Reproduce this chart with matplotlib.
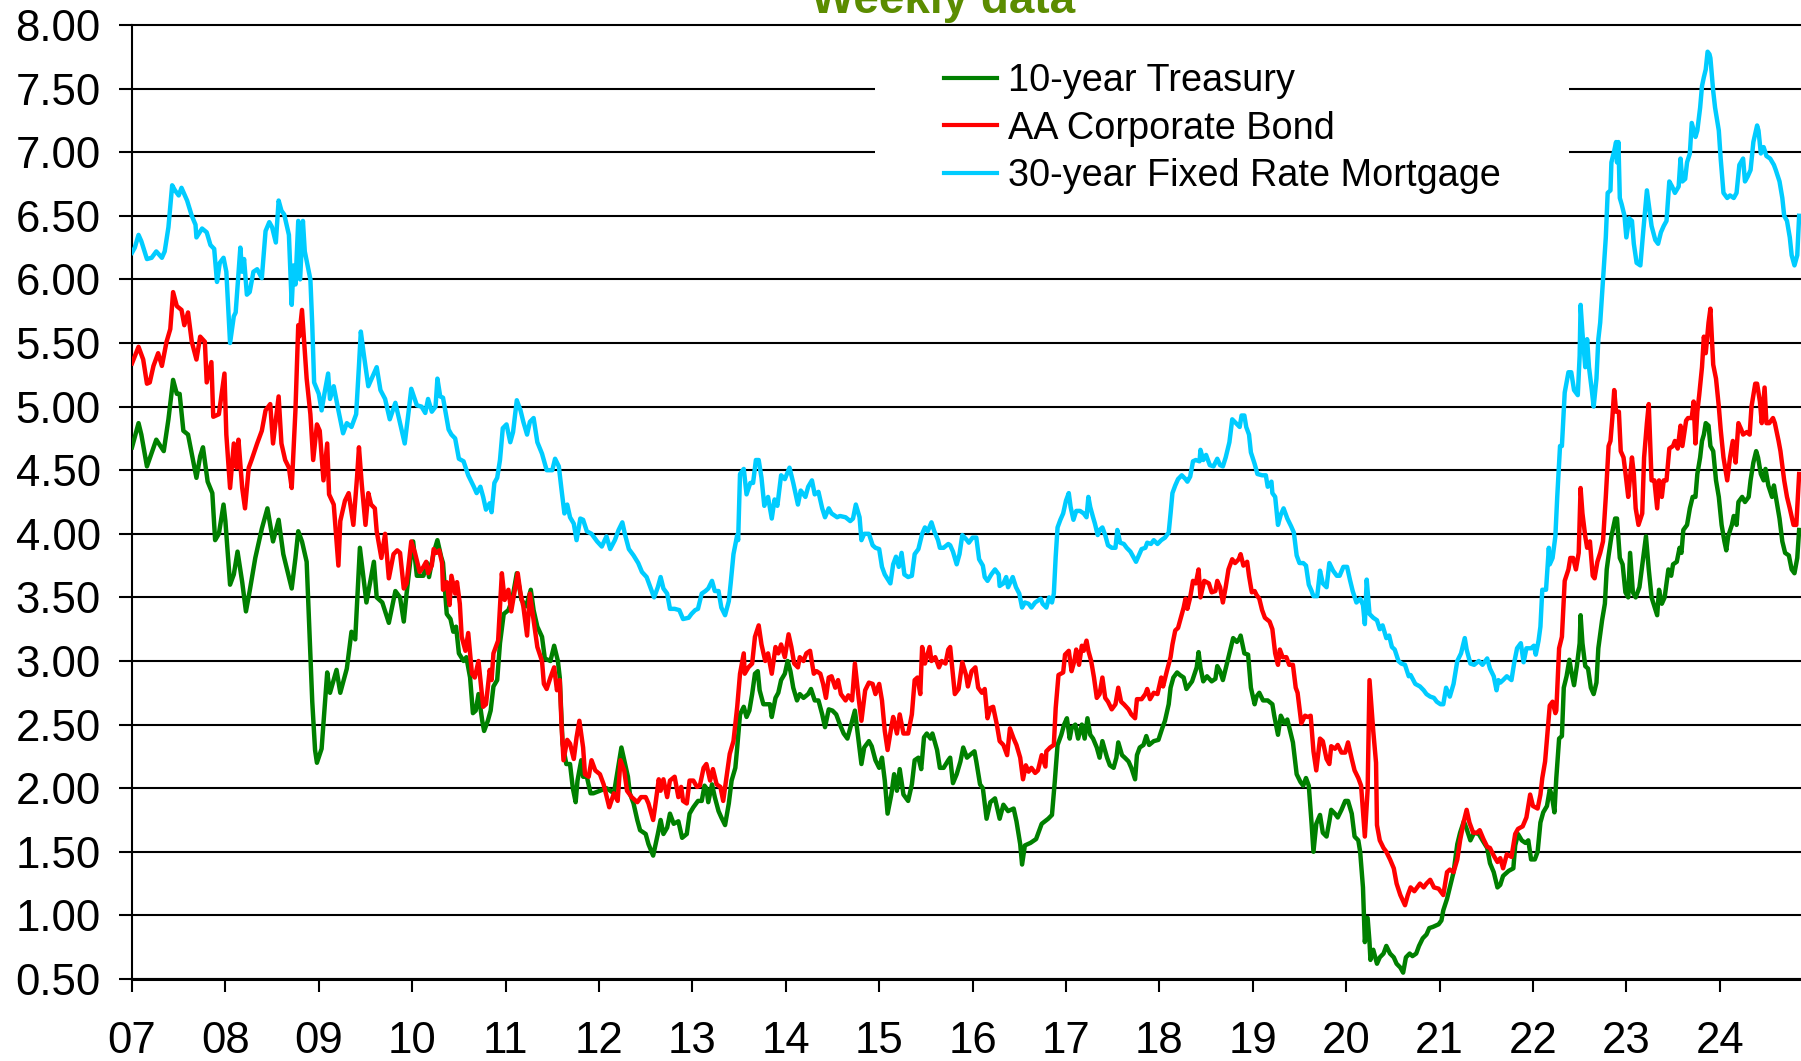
import matplotlib
matplotlib.use("Agg")
import matplotlib.pyplot as plt
from matplotlib.patches import Rectangle

plt.rcParams['font.family'] = ['Liberation Sans', 'DejaVu Sans']

# ---------------- data (decimal year, percent) ----------------
tsy_dates = [
    2007.00,2007.07,2007.10,2007.16,2007.26,2007.34,2007.39,2007.44,2007.48,2007.51,2007.55,2007.60,2007.69,2007.73,2007.76,2007.81,2007.86,2007.89,2007.93,2007.98,
    2008.00,2008.05,2008.09,2008.13,2008.18,2008.22,2008.26,2008.32,2008.39,2008.45,2008.51,2008.57,2008.62,2008.71,2008.75,2008.78,2008.82,2008.87,2008.93,2008.96,2008.98,
    2009.03,2009.09,2009.12,2009.19,2009.23,2009.30,2009.35,2009.39,2009.44,2009.51,2009.59,2009.62,2009.68,2009.75,2009.82,2009.87,2009.91,2009.94,2009.98,
    2010.01,2010.05,2010.12,2010.16,2010.18,2010.23,2010.27,2010.31,2010.33,2010.37,2010.41,2010.44,2010.47,2010.50,2010.55,2010.58,2010.62,2010.65,2010.68,2010.71,2010.75,2010.77,2010.81,2010.84,2010.87,2010.91,2010.94,2010.98,
    2011.03,2011.07,2011.12,2011.17,2011.22,2011.27,2011.30,2011.34,2011.39,2011.42,2011.48,2011.52,2011.56,2011.58,2011.61,2011.65,2011.69,2011.72,2011.75,2011.77,2011.81,2011.83,2011.87,2011.91,2011.94,
    2012.01,2012.08,2012.16,2012.20,2012.24,2012.27,2012.31,2012.33,2012.37,2012.41,2012.44,2012.50,2012.53,2012.58,2012.63,2012.66,2012.69,2012.73,2012.76,2012.80,2012.85,2012.89,2012.94,2012.97,
    2013.01,2013.06,2013.10,2013.13,2013.15,2013.17,2013.21,2013.24,2013.28,2013.31,2013.35,2013.39,2013.42,2013.46,2013.48,2013.51,2013.55,2013.58,2013.61,2013.64,2013.67,2013.70,2013.72,2013.76,2013.80,2013.83,2013.85,2013.89,2013.92,2013.95,2013.99,
    2014.02,2014.05,2014.08,2014.12,2014.15,2014.19,2014.24,2014.27,2014.31,2014.35,2014.39,2014.42,2014.46,2014.50,2014.54,2014.58,2014.62,2014.66,2014.70,2014.74,2014.78,2014.81,2014.84,2014.89,2014.92,2014.96,
    2015.00,2015.03,2015.06,2015.09,2015.13,2015.16,2015.19,2015.22,2015.26,2015.31,2015.35,2015.38,2015.42,2015.45,2015.48,2015.51,2015.55,2015.57,2015.62,2015.65,2015.69,2015.74,2015.76,2015.79,2015.83,2015.87,2015.90,2015.94,2015.97,
    2016.02,2016.04,2016.08,2016.11,2016.15,2016.19,2016.24,2016.29,2016.33,2016.38,2016.44,2016.47,2016.51,2016.53,2016.56,2016.62,2016.68,2016.74,2016.81,2016.85,2016.88,2016.91,2016.95,2016.98,
    2017.01,2017.04,2017.06,2017.10,2017.13,2017.17,2017.20,2017.23,2017.26,2017.29,2017.33,2017.36,2017.39,2017.44,2017.47,2017.51,2017.54,2017.56,2017.60,2017.63,2017.67,2017.70,2017.74,2017.76,2017.79,2017.83,2017.86,2017.89,2017.94,2017.99,
    2018.03,2018.06,2018.10,2018.12,2018.15,2018.19,2018.22,2018.26,2018.29,2018.33,2018.35,2018.40,2018.42,2018.44,2018.47,2018.51,2018.56,2018.60,2018.62,2018.65,2018.68,2018.71,2018.75,2018.79,2018.83,2018.86,2018.87,2018.91,2018.95,2018.98,
    2019.02,2019.04,2019.07,2019.11,2019.16,2019.21,2019.23,2019.27,2019.30,2019.34,2019.37,2019.39,2019.43,2019.47,2019.51,2019.54,2019.57,2019.60,2019.63,2019.65,2019.68,2019.72,2019.75,2019.79,2019.82,2019.84,2019.88,2019.91,2019.95,2019.99,
    2020.02,2020.06,2020.09,2020.13,2020.15,2020.18,2020.20,2020.23,2020.25,2020.26,2020.29,2020.33,2020.36,2020.40,2020.43,2020.47,2020.51,2020.54,2020.58,2020.61,2020.64,2020.68,2020.71,2020.75,2020.78,2020.82,2020.86,2020.89,2020.93,2020.99,
    2021.02,2021.04,2021.08,2021.11,2021.15,2021.19,2021.22,2021.26,2021.29,2021.33,2021.37,2021.42,2021.46,2021.51,2021.54,2021.58,2021.62,2021.65,2021.68,2021.74,2021.79,2021.81,2021.84,2021.88,2021.92,2021.95,2021.98,
    2022.02,2022.05,2022.08,2022.11,2022.15,2022.18,2022.20,2022.23,2022.25,2022.28,2022.31,2022.33,2022.36,2022.39,2022.41,2022.44,2022.47,2022.50,2022.51,2022.53,2022.56,2022.59,2022.62,2022.65,2022.68,2022.70,2022.74,2022.77,2022.79,2022.81,2022.84,2022.88,2022.90,2022.93,2022.96,2022.99,
    2023.02,2023.04,2023.07,2023.10,2023.14,2023.18,2023.21,2023.24,2023.27,2023.30,2023.33,2023.35,2023.38,2023.41,2023.45,2023.48,2023.50,2023.54,2023.57,2023.59,2023.61,2023.65,2023.68,2023.71,2023.74,2023.76,2023.79,2023.81,2023.83,2023.85,2023.88,2023.90,2023.93,2023.96,2023.99,
    2024.02,2024.05,2024.07,2024.09,2024.13,2024.15,2024.18,2024.20,2024.24,2024.27,2024.31,2024.33,2024.36,2024.39,2024.41,2024.44,2024.47,2024.49,2024.52,2024.56,2024.58,2024.61,2024.64,2024.67,2024.70,2024.74,2024.77,2024.80,2024.83,2024.85,
]
tsy_values = [
    4.68,4.87,4.78,4.53,4.74,4.65,4.90,5.21,5.10,5.10,4.81,4.78,4.44,4.61,4.68,4.41,4.32,3.95,4.00,4.23,
    4.10,3.60,3.68,3.86,3.62,3.39,3.55,3.81,4.04,4.20,3.94,4.11,3.84,3.57,3.81,4.02,3.94,3.78,2.68,2.30,2.20,
    2.31,2.91,2.75,2.93,2.75,2.94,3.23,3.17,3.89,3.46,3.78,3.50,3.46,3.30,3.55,3.50,3.31,3.53,3.79,
    3.94,3.67,3.67,3.77,3.66,3.85,3.95,3.82,3.77,3.37,3.33,3.23,3.27,3.06,3.00,3.03,2.87,2.59,2.61,2.74,2.53,2.45,2.53,2.61,2.80,2.85,3.14,3.37,
    3.40,3.48,3.69,3.48,3.43,3.56,3.40,3.27,3.19,3.02,3.00,3.12,3.00,2.87,2.35,2.19,2.19,2.00,1.89,2.06,2.22,2.09,2.09,1.96,1.96,
    1.98,2.00,1.96,2.14,2.32,2.22,2.09,1.96,1.88,1.75,1.67,1.64,1.56,1.47,1.64,1.75,1.64,1.69,1.80,1.72,1.74,1.61,1.64,1.80,
    1.85,1.90,1.90,2.02,2.00,1.89,2.03,1.93,1.82,1.77,1.71,1.88,2.06,2.16,2.32,2.58,2.64,2.56,2.61,2.74,2.90,2.92,2.77,2.66,2.66,2.66,2.56,2.71,2.75,2.85,2.90,
    3.00,2.92,2.79,2.69,2.74,2.71,2.74,2.78,2.69,2.69,2.58,2.48,2.62,2.61,2.58,2.50,2.43,2.39,2.50,2.61,2.37,2.19,2.32,2.37,2.33,2.22,
    2.16,2.24,2.06,1.80,1.95,2.11,1.98,2.15,1.95,1.90,2.03,2.22,2.24,2.15,2.40,2.43,2.39,2.43,2.30,2.16,2.16,2.22,2.24,2.04,2.11,2.21,2.32,2.24,2.26,
    2.29,2.21,2.03,2.00,1.76,1.89,1.92,1.76,1.87,1.82,1.84,1.74,1.56,1.40,1.55,1.57,1.60,1.72,1.76,1.79,2.05,2.34,2.42,2.50,
    2.55,2.39,2.47,2.50,2.39,2.50,2.39,2.55,2.42,2.39,2.32,2.24,2.37,2.24,2.18,2.16,2.24,2.36,2.26,2.24,2.21,2.16,2.07,2.26,2.32,2.34,2.41,2.34,2.37,2.38,
    2.47,2.53,2.66,2.79,2.87,2.91,2.89,2.87,2.78,2.82,2.84,2.95,3.07,2.95,2.84,2.88,2.84,2.86,2.96,2.92,2.85,2.94,3.06,3.18,3.15,3.18,3.20,3.06,3.05,2.79,
    2.66,2.72,2.75,2.69,2.69,2.66,2.57,2.42,2.57,2.51,2.54,2.48,2.36,2.11,2.05,2.02,2.08,2.02,1.72,1.50,1.72,1.79,1.65,1.62,1.74,1.83,1.80,1.77,1.83,1.90,
    1.90,1.80,1.62,1.59,1.50,1.22,0.79,0.98,0.79,0.65,0.73,0.62,0.67,0.70,0.76,0.70,0.67,0.62,0.59,0.55,0.67,0.70,0.68,0.70,0.76,0.82,0.85,0.90,0.91,0.93,
    0.96,1.04,1.13,1.22,1.34,1.56,1.65,1.74,1.68,1.59,1.65,1.64,1.59,1.53,1.41,1.34,1.22,1.24,1.31,1.35,1.37,1.55,1.64,1.59,1.57,1.59,1.44,
    1.44,1.50,1.73,1.81,1.86,1.99,1.95,1.81,2.08,2.39,2.41,2.79,2.88,3.01,2.92,2.81,2.96,3.14,3.36,3.14,2.96,2.94,2.79,2.74,2.83,3.10,3.32,3.45,3.72,3.83,3.98,4.12,4.12,3.81,3.76,3.54,
    3.50,3.85,3.54,3.50,3.58,3.81,3.98,3.72,3.50,3.43,3.36,3.56,3.45,3.50,3.72,3.67,3.76,3.78,3.89,3.85,4.03,4.07,4.20,4.29,4.29,4.47,4.60,4.73,4.78,4.87,4.85,4.69,4.65,4.42,4.29,
    4.07,3.94,3.87,3.98,4.07,4.14,4.07,4.25,4.29,4.25,4.29,4.42,4.56,4.65,4.60,4.47,4.42,4.51,4.38,4.29,4.38,4.25,4.12,3.94,3.85,3.83,3.72,3.69,3.81,4.03,
]

aa_dates = [
    2007.00,2007.07,2007.12,2007.16,2007.19,2007.23,2007.28,2007.32,2007.37,2007.41,2007.44,2007.48,2007.53,2007.56,2007.60,2007.64,2007.69,2007.73,2007.78,2007.80,2007.85,2007.87,2007.93,2007.96,2007.99,
    2008.01,2008.05,2008.09,2008.12,2008.14,2008.18,2008.21,2008.25,2008.28,2008.34,2008.39,2008.43,2008.48,2008.51,2008.57,2008.60,2008.64,2008.68,2008.71,2008.75,2008.78,2008.79,2008.82,2008.87,2008.91,2008.94,2008.98,
    2009.01,2009.05,2009.09,2009.11,2009.16,2009.21,2009.23,2009.28,2009.32,2009.37,2009.41,2009.43,2009.46,2009.50,2009.53,2009.56,2009.60,2009.62,2009.67,2009.71,2009.75,2009.80,2009.84,2009.87,2009.91,2009.94,2009.99,
    2010.03,2010.08,2010.12,2010.15,2010.17,2010.21,2010.23,2010.26,2010.29,2010.32,2010.33,2010.37,2010.40,2010.42,2010.46,2010.48,2010.51,2010.53,2010.57,2010.60,2010.64,2010.67,2010.71,2010.76,2010.79,2010.83,2010.85,2010.87,2010.92,2010.96,2010.99,
    2011.03,2011.06,2011.10,2011.13,2011.16,2011.19,2011.23,2011.26,2011.30,2011.34,2011.39,2011.41,2011.44,2011.48,2011.52,2011.55,2011.58,2011.60,2011.62,2011.66,2011.69,2011.73,2011.76,2011.79,2011.83,2011.85,2011.89,2011.92,2011.96,
    2012.01,2012.05,2012.11,2012.16,2012.20,2012.23,2012.27,2012.30,2012.35,2012.41,2012.45,2012.50,2012.53,2012.58,2012.60,2012.64,2012.66,2012.69,2012.73,2012.76,2012.81,2012.85,2012.88,2012.90,2012.94,2012.97,
    2013.01,2013.05,2013.08,2013.12,2013.15,2013.19,2013.22,2013.26,2013.30,2013.33,2013.37,2013.40,2013.44,2013.48,2013.51,2013.55,2013.56,2013.60,2013.64,2013.67,2013.71,2013.74,2013.78,2013.81,2013.85,2013.89,2013.92,2013.95,2013.99,
    2014.03,2014.06,2014.09,2014.13,2014.15,2014.19,2014.22,2014.26,2014.30,2014.33,2014.37,2014.40,2014.43,2014.46,2014.49,2014.53,2014.56,2014.59,2014.64,2014.67,2014.71,2014.74,2014.78,2014.81,2014.85,2014.89,2014.93,2014.96,
    2015.00,2015.03,2015.06,2015.09,2015.13,2015.15,2015.19,2015.22,2015.26,2015.31,2015.35,2015.38,2015.41,2015.44,2015.46,2015.49,2015.54,2015.56,2015.60,2015.64,2015.67,2015.71,2015.74,2015.76,2015.79,2015.81,2015.85,2015.89,2015.93,2015.95,2015.99,
    2016.03,2016.06,2016.10,2016.13,2016.16,2016.19,2016.22,2016.26,2016.29,2016.33,2016.37,2016.40,2016.44,2016.47,2016.51,2016.54,2016.57,2016.60,2016.63,2016.67,2016.70,2016.74,2016.78,2016.79,2016.83,2016.87,2016.89,2016.92,2016.97,2016.99,
    2017.03,2017.06,2017.09,2017.11,2017.14,2017.17,2017.19,2017.22,2017.24,2017.27,2017.30,2017.33,2017.36,2017.39,2017.42,2017.45,2017.49,2017.53,2017.56,2017.59,2017.62,2017.67,2017.70,2017.74,2017.76,2017.81,2017.85,2017.87,2017.90,2017.94,2017.98,
    2018.02,2018.04,2018.08,2018.12,2018.14,2018.17,2018.20,2018.23,2018.26,2018.28,2018.30,2018.33,2018.36,2018.39,2018.42,2018.44,2018.48,2018.53,2018.56,2018.60,2018.62,2018.65,2018.68,2018.71,2018.74,2018.78,2018.81,2018.85,2018.87,2018.90,2018.94,2018.96,2018.99,
    2019.02,2019.04,2019.07,2019.10,2019.13,2019.18,2019.21,2019.24,2019.27,2019.29,2019.32,2019.36,2019.39,2019.43,2019.46,2019.48,2019.52,2019.56,2019.59,2019.62,2019.65,2019.68,2019.72,2019.75,2019.79,2019.82,2019.84,2019.88,2019.91,2019.95,2019.99,
    2020.02,2020.06,2020.09,2020.13,2020.16,2020.20,2020.23,2020.25,2020.26,2020.29,2020.32,2020.33,2020.36,2020.40,2020.43,2020.47,2020.51,2020.54,2020.58,2020.63,2020.66,2020.69,2020.73,2020.76,2020.79,2020.83,2020.86,2020.90,2020.94,2020.99,
    2021.04,2021.08,2021.11,2021.15,2021.19,2021.22,2021.26,2021.29,2021.32,2021.36,2021.40,2021.43,2021.47,2021.51,2021.54,2021.58,2021.62,2021.65,2021.68,2021.72,2021.77,2021.81,2021.84,2021.89,2021.93,2021.97,
    2022.00,2022.05,2022.08,2022.10,2022.13,2022.15,2022.18,2022.21,2022.24,2022.25,2022.28,2022.31,2022.34,2022.38,2022.40,2022.43,2022.46,2022.49,2022.51,2022.53,2022.56,2022.58,2022.61,2022.64,2022.66,2022.69,2022.72,2022.75,2022.78,2022.81,2022.83,2022.85,2022.87,2022.89,2022.92,2022.94,2022.97,
    2023.00,2023.02,2023.06,2023.08,2023.10,2023.13,2023.17,2023.19,2023.22,2023.24,2023.27,2023.30,2023.33,2023.35,2023.38,2023.40,2023.43,2023.46,2023.50,2023.52,2023.55,2023.58,2023.60,2023.64,2023.66,2023.70,2023.72,2023.74,2023.76,2023.78,2023.81,2023.83,2023.85,2023.88,2023.90,2023.91,2023.93,2023.96,2023.99,
    2024.01,2024.04,2024.08,2024.11,2024.14,2024.17,2024.20,2024.23,2024.25,2024.29,2024.32,2024.34,2024.38,2024.40,2024.43,2024.45,2024.48,2024.50,2024.53,2024.57,2024.59,2024.63,2024.65,2024.69,2024.72,2024.75,2024.79,2024.82,2024.85,
]
aa_values = [
    5.34,5.47,5.37,5.18,5.19,5.32,5.42,5.32,5.51,5.61,5.90,5.79,5.76,5.64,5.74,5.51,5.37,5.55,5.51,5.19,5.35,4.92,4.94,5.10,5.26,
    4.78,4.36,4.71,4.52,4.74,4.36,4.20,4.52,4.58,4.71,4.81,4.97,5.02,4.71,5.08,4.71,4.58,4.52,4.36,4.97,5.64,5.55,5.76,5.22,4.94,4.58,4.86,
    4.81,4.42,4.71,4.31,4.23,3.75,4.10,4.26,4.32,4.07,4.45,4.68,4.39,4.07,4.32,4.23,4.20,4.02,3.81,4.00,3.65,3.84,3.87,3.85,3.57,3.61,3.94,
    3.85,3.70,3.74,3.78,3.69,3.75,3.88,3.85,3.87,3.77,3.56,3.62,3.44,3.67,3.53,3.62,3.45,3.19,3.08,3.22,2.90,2.87,3.00,2.64,2.66,2.93,2.85,3.06,3.16,3.69,3.48,
    3.56,3.39,3.56,3.69,3.53,3.43,3.20,3.53,3.32,3.11,3.00,2.82,2.78,2.87,2.95,2.77,2.85,2.48,2.22,2.38,2.35,2.23,2.40,2.53,2.32,2.11,2.09,2.22,2.14,
    2.11,2.03,1.85,1.96,1.90,2.22,2.14,1.98,1.93,1.89,1.93,1.93,1.88,1.75,1.85,2.07,1.98,2.07,1.93,2.06,2.09,1.93,2.01,1.90,1.88,2.06,
    2.06,2.01,2.02,2.16,2.19,2.06,2.15,2.03,2.01,1.90,2.11,2.27,2.37,2.64,2.90,3.06,2.90,2.95,2.98,3.19,3.28,3.13,3.00,3.06,2.90,3.11,3.06,3.13,3.03,
    3.21,3.11,2.98,2.95,3.03,3.00,3.06,3.08,2.90,2.92,2.90,2.82,2.71,2.87,2.88,2.79,2.85,2.74,2.69,2.73,2.69,2.98,2.71,2.53,2.77,2.83,2.82,2.74,
    2.82,2.69,2.45,2.30,2.48,2.56,2.43,2.58,2.43,2.43,2.58,2.85,2.87,2.74,3.11,2.98,3.11,3.00,3.03,2.95,3.00,2.98,3.09,3.11,2.89,2.74,2.78,2.99,2.89,2.80,2.92,
    2.95,2.79,2.75,2.78,2.55,2.63,2.64,2.50,2.37,2.34,2.26,2.47,2.39,2.34,2.24,2.07,2.18,2.13,2.16,2.12,2.14,2.26,2.17,2.29,2.32,2.34,2.63,2.89,2.91,3.05,
    3.08,2.92,3.00,3.09,2.97,3.12,3.08,3.16,3.08,3.00,2.87,2.71,2.74,2.87,2.71,2.68,2.62,2.66,2.79,2.68,2.66,2.62,2.58,2.55,2.70,2.70,2.74,2.78,2.70,2.75,2.74,
    2.87,2.80,2.92,3.03,3.13,3.24,3.26,3.34,3.42,3.49,3.41,3.50,3.63,3.61,3.72,3.50,3.63,3.61,3.54,3.55,3.63,3.58,3.46,3.58,3.72,3.80,3.77,3.80,3.84,3.75,3.78,3.67,3.54,
    3.55,3.52,3.49,3.40,3.34,3.31,3.25,3.06,2.97,3.09,3.03,3.03,2.97,2.97,2.79,2.75,2.51,2.57,2.56,2.57,2.29,2.14,2.39,2.37,2.23,2.19,2.33,2.31,2.34,2.28,2.28,
    2.36,2.23,2.14,2.08,2.02,1.62,1.99,2.85,2.75,2.45,2.20,1.71,1.59,1.53,1.50,1.44,1.37,1.25,1.16,1.08,1.16,1.22,1.19,1.22,1.25,1.22,1.25,1.28,1.22,1.21,
    1.16,1.34,1.36,1.34,1.44,1.59,1.74,1.83,1.73,1.65,1.65,1.67,1.60,1.54,1.53,1.47,1.42,1.45,1.37,1.48,1.46,1.64,1.68,1.70,1.77,1.95,
    1.86,1.84,1.95,2.08,2.21,2.39,2.65,2.68,2.59,2.61,3.10,3.19,3.63,3.72,3.81,3.81,3.72,3.85,4.36,4.16,3.98,3.89,3.94,3.67,3.65,3.78,3.85,3.94,4.29,4.69,4.73,4.91,5.13,4.96,4.96,4.65,4.60,
    4.42,4.29,4.60,4.47,4.20,4.07,4.16,4.60,4.87,5.02,4.42,4.42,4.20,4.42,4.29,4.42,4.42,4.67,4.69,4.73,4.67,4.85,4.69,4.89,4.91,4.91,5.04,4.71,4.96,5.09,5.31,5.55,5.42,5.66,5.77,5.62,5.33,5.22,5.00,
    4.82,4.60,4.42,4.60,4.73,4.56,4.87,4.82,4.78,4.80,4.78,5.00,5.18,5.18,5.04,4.87,5.15,4.87,4.87,4.91,4.87,4.73,4.65,4.42,4.29,4.20,4.07,4.07,4.47,
]

mtg_dates = [
    2007.00,2007.03,2007.07,2007.10,2007.16,2007.21,2007.26,2007.32,2007.35,2007.39,2007.43,2007.46,2007.50,2007.53,2007.59,2007.64,2007.68,2007.69,2007.75,2007.80,2007.84,2007.88,2007.91,2007.94,2007.98,
    2008.01,2008.05,2008.09,2008.11,2008.16,2008.18,2008.20,2008.23,2008.26,2008.30,2008.34,2008.39,2008.43,2008.47,2008.50,2008.54,2008.57,2008.60,2008.63,2008.68,2008.71,2008.73,2008.75,2008.78,2008.80,2008.83,2008.85,2008.91,2008.93,2008.95,
    2009.00,2009.03,2009.06,2009.10,2009.12,2009.16,2009.21,2009.26,2009.30,2009.35,2009.40,2009.43,2009.45,2009.48,2009.53,2009.59,2009.62,2009.66,2009.71,2009.76,2009.82,2009.87,2009.92,2009.96,2009.99,
    2010.05,2010.10,2010.14,2010.17,2010.21,2010.25,2010.27,2010.30,2010.33,2010.39,2010.42,2010.46,2010.50,2010.55,2010.60,2010.66,2010.69,2010.73,2010.76,2010.79,2010.83,2010.85,2010.88,2010.91,2010.94,2010.97,
    2011.01,2011.05,2011.08,2011.12,2011.16,2011.19,2011.23,2011.26,2011.30,2011.34,2011.39,2011.44,2011.50,2011.53,2011.57,2011.60,2011.63,2011.66,2011.69,2011.73,2011.76,2011.80,2011.83,2011.87,2011.92,2011.98,
    2012.03,2012.08,2012.12,2012.17,2012.21,2012.25,2012.28,2012.32,2012.37,2012.42,2012.46,2012.51,2012.55,2012.59,2012.63,2012.66,2012.69,2012.73,2012.76,2012.81,2012.86,2012.90,2012.96,2012.99,
    2013.03,2013.06,2013.10,2013.14,2013.17,2013.21,2013.24,2013.28,2013.31,2013.35,2013.39,2013.41,2013.44,2013.48,2013.49,2013.51,2013.55,2013.58,2013.62,2013.65,2013.68,2013.71,2013.74,2013.77,2013.81,2013.85,2013.88,2013.91,2013.95,2013.99,
    2014.04,2014.08,2014.13,2014.16,2014.21,2014.24,2014.28,2014.31,2014.35,2014.39,2014.42,2014.46,2014.49,2014.55,2014.58,2014.64,2014.69,2014.72,2014.75,2014.79,2014.81,2014.84,2014.89,2014.93,2014.96,
    2015.00,2015.03,2015.06,2015.12,2015.15,2015.18,2015.21,2015.24,2015.27,2015.31,2015.35,2015.38,2015.42,2015.46,2015.49,2015.52,2015.56,2015.59,2015.63,2015.65,2015.69,2015.74,2015.76,2015.79,2015.83,2015.86,2015.89,2015.94,2015.96,
    2016.00,2016.04,2016.07,2016.11,2016.13,2016.16,2016.20,2016.24,2016.28,2016.29,2016.33,2016.36,2016.38,2016.43,2016.465,2016.50,2016.53,2016.56,2016.60,2016.63,2016.67,2016.73,2016.75,2016.79,2016.82,2016.85,2016.87,2016.89,2016.91,2016.94,2016.97,
    2017.00,2017.03,2017.05,2017.08,2017.11,2017.15,2017.19,2017.22,2017.24,2017.26,2017.29,2017.31,2017.34,2017.36,2017.39,2017.42,2017.45,2017.49,2017.53,2017.55,2017.58,2017.62,2017.65,2017.69,2017.72,2017.75,2017.78,2017.81,2017.85,2017.87,2017.91,2017.94,2017.98,
    2018.02,2018.06,2018.10,2018.12,2018.14,2018.17,2018.20,2018.24,2018.28,2018.30,2018.33,2018.36,2018.39,2018.43,2018.44,2018.47,2018.50,2018.54,2018.58,2018.62,2018.65,2018.68,2018.71,2018.75,2018.78,2018.82,2018.86,2018.88,2018.91,2018.93,2018.96,2018.98,
    2019.02,2019.05,2019.10,2019.14,2019.16,2019.20,2019.21,2019.24,2019.27,2019.30,2019.33,2019.37,2019.41,2019.44,2019.47,2019.50,2019.54,2019.57,2019.60,2019.63,2019.65,2019.69,2019.72,2019.75,2019.79,2019.82,2019.86,2019.90,2019.93,2019.97,
    2020.01,2020.04,2020.07,2020.11,2020.15,2020.18,2020.20,2020.22,2020.25,2020.29,2020.33,2020.36,2020.39,2020.43,2020.46,2020.49,2020.52,2020.56,2020.59,2020.63,2020.67,2020.69,2020.74,2020.79,2020.83,2020.86,2020.90,2020.94,2020.97,
    2021.01,2021.04,2021.07,2021.11,2021.15,2021.19,2021.23,2021.27,2021.29,2021.33,2021.37,2021.42,2021.46,2021.51,2021.54,2021.58,2021.61,2021.63,2021.65,2021.68,2021.72,2021.77,2021.80,2021.83,2021.87,2021.90,2021.93,2021.98,
    2022.01,2022.03,2022.06,2022.08,2022.10,2022.14,2022.17,2022.18,2022.21,2022.24,2022.26,2022.29,2022.31,2022.33,2022.34,2022.38,2022.41,2022.44,2022.48,2022.50,2022.51,2022.53,2022.56,2022.58,2022.60,2022.63,2022.65,2022.68,2022.70,2022.72,2022.74,2022.76,2022.78,2022.80,2022.83,2022.84,2022.87,2022.89,2022.90,2022.915,2022.93,2022.95,2022.98,
    2023.00,2023.03,2023.06,2023.08,2023.11,2023.15,2023.18,2023.22,2023.24,2023.27,2023.31,2023.34,2023.37,2023.40,2023.43,2023.46,2023.49,2023.52,2023.56,2023.58,2023.60,2023.63,2023.65,2023.68,2023.70,2023.74,2023.76,2023.79,2023.81,2023.83,2023.85,2023.87,2023.89,2023.90,2023.93,2023.95,2023.99,
    2024.01,2024.04,2024.08,2024.11,2024.15,2024.18,2024.21,2024.25,2024.27,2024.30,2024.33,2024.36,2024.40,2024.415,2024.44,2024.47,2024.50,2024.54,2024.58,2024.60,2024.64,2024.67,2024.69,2024.72,2024.75,2024.77,2024.80,2024.83,2024.85,
]
mtg_values = [
    6.21,6.25,6.35,6.30,6.16,6.17,6.22,6.17,6.22,6.41,6.74,6.70,6.66,6.72,6.62,6.50,6.43,6.33,6.40,6.37,6.27,6.24,5.98,6.13,6.17,
    6.06,5.50,5.71,5.74,6.25,6.06,6.16,5.88,5.90,6.06,6.08,6.01,6.38,6.45,6.41,6.29,6.62,6.54,6.51,6.35,5.80,6.11,5.96,6.46,6.00,6.46,6.22,6.00,5.64,5.19,
    5.10,4.97,5.10,5.26,5.06,5.16,4.97,4.79,4.87,4.84,4.94,5.32,5.59,5.42,5.16,5.26,5.31,5.13,5.06,4.90,5.03,4.87,4.71,4.95,5.14,
    5.01,5.00,4.95,5.06,4.96,5.00,5.22,5.08,5.07,4.82,4.78,4.75,4.59,4.57,4.46,4.37,4.32,4.37,4.29,4.19,4.24,4.17,4.40,4.44,4.58,4.83,
    4.86,4.72,4.80,5.05,4.97,4.88,4.78,4.88,4.91,4.72,4.63,4.50,4.50,4.59,4.53,4.34,4.16,4.23,4.13,4.08,3.95,4.12,4.11,4.02,4.00,3.94,
    3.90,3.98,3.88,3.95,4.03,4.09,3.99,3.88,3.83,3.77,3.70,3.66,3.58,3.50,3.58,3.66,3.57,3.53,3.41,3.41,3.40,3.33,3.34,3.37,
    3.40,3.41,3.53,3.55,3.57,3.63,3.55,3.55,3.42,3.36,3.47,3.61,3.84,3.99,3.95,4.47,4.51,4.31,4.40,4.40,4.58,4.58,4.44,4.22,4.29,4.12,4.27,4.22,4.46,4.43,
    4.52,4.40,4.23,4.34,4.29,4.37,4.42,4.31,4.33,4.20,4.13,4.20,4.16,4.13,4.14,4.13,4.10,4.12,4.23,4.13,3.95,4.00,4.00,3.91,3.89,
    3.88,3.74,3.68,3.61,3.76,3.82,3.74,3.85,3.68,3.66,3.67,3.84,3.88,4.00,4.05,4.02,4.09,4.02,3.95,3.89,3.89,3.92,3.91,3.86,3.76,3.84,3.99,3.95,3.93,
    3.97,3.97,3.80,3.75,3.66,3.63,3.68,3.72,3.68,3.59,3.61,3.66,3.58,3.66,3.58,3.53,3.42,3.46,3.45,3.42,3.46,3.49,3.45,3.42,3.50,3.46,3.53,3.82,4.05,4.11,4.16,
    4.26,4.32,4.21,4.11,4.18,4.18,4.16,4.13,4.29,4.21,4.13,4.08,3.99,4.03,4.05,3.99,3.91,3.89,3.89,4.03,3.93,3.92,3.89,3.86,3.82,3.78,3.83,3.88,3.89,3.93,3.92,3.95,3.92,
    3.95,3.97,4.01,4.16,4.32,4.38,4.43,4.46,4.43,4.41,4.45,4.57,4.58,4.57,4.66,4.58,4.62,4.54,4.53,4.59,4.54,4.53,4.60,4.72,4.90,4.87,4.84,4.93,4.93,4.84,4.78,4.64,
    4.55,4.47,4.46,4.46,4.37,4.41,4.32,4.29,4.07,4.15,4.20,4.12,4.06,4.01,3.83,3.77,3.77,3.75,3.60,3.55,3.51,3.51,3.71,3.61,3.58,3.77,3.71,3.67,3.67,3.74,
    3.74,3.64,3.55,3.46,3.49,3.44,3.29,3.64,3.37,3.34,3.32,3.25,3.28,3.18,3.20,3.11,3.09,3.00,2.98,2.97,2.88,2.89,2.82,2.80,2.77,2.74,2.72,2.71,2.68,
    2.66,2.66,2.79,2.72,2.82,3.00,3.06,3.18,3.09,2.98,2.97,3.00,2.97,3.02,2.94,2.88,2.77,2.85,2.83,2.85,2.88,2.85,2.99,3.10,3.14,2.99,3.10,3.10,
    3.12,3.05,3.16,3.27,3.56,3.56,3.89,3.76,3.81,3.98,4.29,4.69,4.69,4.96,5.11,5.27,5.27,5.13,5.09,5.40,5.80,5.58,5.31,5.53,5.31,5.13,5.00,5.22,5.53,5.66,5.88,6.11,6.33,6.68,6.70,6.92,7.01,7.08,6.92,7.08,6.64,6.59,6.50,
    6.33,6.48,6.46,6.28,6.13,6.11,6.37,6.70,6.59,6.42,6.31,6.28,6.37,6.42,6.46,6.77,6.73,6.68,6.73,6.95,6.77,6.79,6.92,6.99,7.23,7.12,7.17,7.35,7.52,7.59,7.65,7.79,7.77,7.74,7.48,7.35,7.17,
    6.95,6.68,6.64,6.66,6.64,6.68,6.90,6.95,6.77,6.81,6.86,7.08,7.21,7.17,6.99,7.04,6.97,6.95,6.90,6.86,6.77,6.64,6.50,6.46,6.33,6.19,6.11,6.19,6.50,
]

series_labels = ["10-year Treasury", "AA Corporate Bond", "30-year Fixed Rate Mortgage"]
series_colors = ["#008000", "#FF0000", "#00CCFF"]
year_ticks = list(range(2007, 2025))
year_labels = ["%02d" % (y % 100) for y in year_ticks]
y_ticks = [0.5 + 0.5 * i for i in range(16)]
title_text = "Weekly data"

# ---------------- figure ----------------
W, H = 1801, 1061
fig = plt.figure(figsize=(W / 100, H / 100), dpi=100)
ax = fig.add_axes([132 / W, 82 / H, (W - 132) / W, (979 - 25) / H])

LW = 3.2
ax.plot(tsy_dates, tsy_values, color=series_colors[0], lw=LW, label=series_labels[0], zorder=3, solid_joinstyle='round')
ax.plot(aa_dates, aa_values, color=series_colors[1], lw=LW, label=series_labels[1], zorder=3, solid_joinstyle='round')
ax.plot(mtg_dates, mtg_values, color=series_colors[2], lw=LW, label=series_labels[2], zorder=3, solid_joinstyle='round')

ax.set_xlim(2007, 2024.87)
ax.set_ylim(0.5, 8.0)
ax.set_yticks(y_ticks)
ax.set_yticklabels(["%.2f" % v for v in y_ticks])
ax.set_xticks(year_ticks)
ax.set_xticklabels(year_labels)

ax.set_axisbelow(True)
ax.grid(axis='y', color='black', lw=1.5)
for gl in ax.get_ygridlines():
    gl.set_clip_on(False)

for s in ['top', 'right']:
    ax.spines[s].set_visible(False)
ax.spines['left'].set_linewidth(1.5)
ax.spines['bottom'].set_linewidth(2.2)

ax.tick_params(axis='y', direction='out', length=9.5, width=1.5, pad=13, labelsize=31.5)
ax.tick_params(axis='x', direction='out', length=9, width=1.5, pad=21, labelsize=31.5)

# white box behind the legend (hides the gridlines there)
ax.add_patch(Rectangle((0.4452, 0.8113), 0.861 - 0.4452, 0.9843 - 0.8113,
                       transform=ax.transAxes, facecolor='white', edgecolor='none', zorder=1.5))

leg = ax.legend(loc='upper left', bbox_to_anchor=(0.4865, 0.960), frameon=False,
                fontsize=27.3, handlelength=1.4, handletextpad=0.3, labelspacing=0.30,
                borderpad=0, borderaxespad=0)
for h in leg.get_lines():
    h.set_linewidth(3.0)

fig.text(943 / W, 1 - 12.7 / H, title_text, ha='center', va='baseline',
         fontsize=33, fontweight='bold', color='#5B8C00')

fig.savefig("out.png", dpi=100)
